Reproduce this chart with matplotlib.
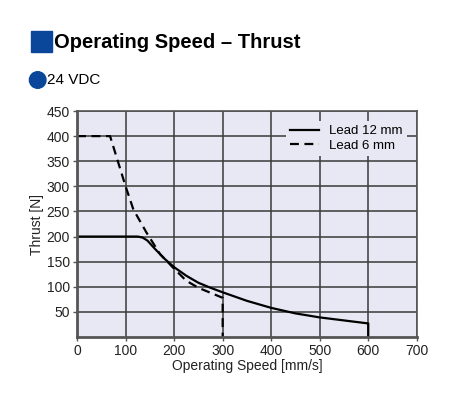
import matplotlib
matplotlib.use("Agg")
import matplotlib.pyplot as plt
from matplotlib.patches import Rectangle, Circle

plt.rcParams['font.family'] = ['Liberation Sans', 'DejaVu Sans']

# Lead 12 mm (solid)
speed_12 = [0, 125, 135, 145, 160, 180, 200, 225, 250, 275, 300, 350, 400, 450, 500, 550, 600, 600]
thrust_12 = [200, 200, 198, 192, 176, 156, 139, 122, 108, 98, 89, 72, 58, 47, 39, 33, 27, 0]

# Lead 6 mm (dashed)
speed_6 = [0, 68, 100, 116, 143, 171, 200, 225, 250, 275, 300, 300]
thrust_6 = [400, 400, 300, 254, 208, 165, 136, 112, 98, 88, 78, 0]

x_ticks = [0, 100, 200, 300, 400, 500, 600, 700]
y_ticks = [50, 100, 150, 200, 250, 300, 350, 400, 450]

fig = plt.figure(figsize=(4.56, 4.0), dpi=100)
ax = fig.add_axes([0.169, 0.1575, 0.745, 0.565])
ax.set_facecolor('#e8e8f4')

ax.plot(speed_12, thrust_12, color='black', lw=1.6, label='Lead 12 mm')
ax.plot(speed_6, thrust_6, color='black', lw=1.6, ls=(0, (4, 2.5)), label='Lead 6 mm')

ax.set_xlim(0, 700)
ax.set_ylim(0, 450)
ax.set_xticks(x_ticks)
ax.set_yticks(y_ticks)
ax.grid(True, color='#3a3a3a', lw=1.1)
ax.set_axisbelow(True)
ax.tick_params(labelsize=10, length=3, width=1, color='#555555', pad=2, labelcolor='#222222')
for s in ax.spines.values():
    s.set_color('#555555')
    s.set_linewidth(1.2)
ax.spines['left'].set_linewidth(2)
ax.spines['bottom'].set_linewidth(2)

ax.set_xlabel('Operating Speed [mm/s]', fontsize=10, labelpad=1, color='#222222')
ax.set_ylabel('Thrust [N]', fontsize=10, labelpad=2, color='#222222')

leg = ax.legend(loc='upper right', fontsize=9.5, frameon=True, facecolor='#e8e8f4',
                edgecolor='none', framealpha=1, handlelength=2.2, borderpad=0.3,
                labelspacing=0.2, bbox_to_anchor=(0.99, 0.985))

# header
fig.patches.append(Rectangle((31 / 456, 1 - 52 / 400), 21 / 456, 21 / 400,
                             transform=fig.transFigure, color='#0a479b'))
fig.text(54 / 456, 1 - 42 / 400, 'Operating Speed – Thrust', fontsize=14.5,
         fontweight='bold', va='center', ha='left', color='black')
fig.patches.append(Circle((0.377, 4.0 - 0.80), 0.083,
                          transform=fig.dpi_scale_trans, color='#0a479b'))
fig.text(47.5 / 456, 1 - 80 / 400, '24 VDC', fontsize=11, va='center', ha='left')

fig.savefig('out.png', dpi=100)
